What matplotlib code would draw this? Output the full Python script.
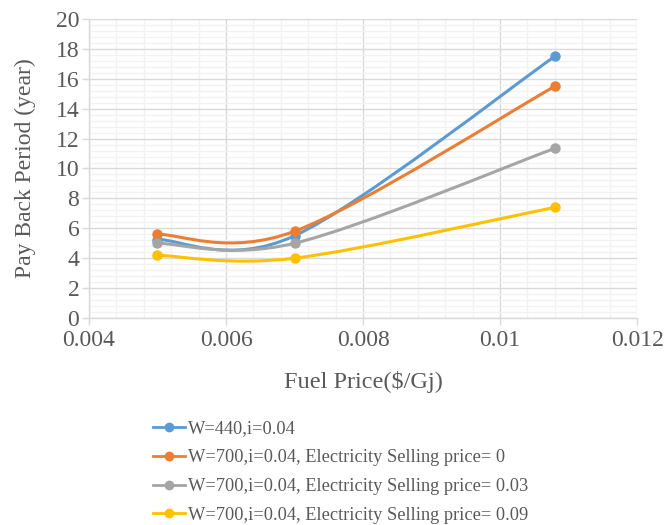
import numpy as np
import matplotlib
matplotlib.use("Agg")
import matplotlib.pyplot as plt
from matplotlib.path import Path
from matplotlib.patches import PathPatch
from matplotlib.lines import Line2D
from matplotlib.ticker import MultipleLocator


# -----------------------------
# Data
# -----------------------------

fuel_price = [0.005, 0.007, 0.0108]

payback_w440 = [5.25, 5.5, 17.5]
payback_w700_sell0 = [5.6, 5.8, 15.5]
payback_w700_sell003 = [5.0, 5.0, 11.35]
payback_w700_sell009 = [4.2, 4.0, 7.4]

series_labels = [
    "W=440,i=0.04",
    "W=700,i=0.04, Electricity Selling price= 0",
    "W=700,i=0.04, Electricity Selling price= 0.03",
    "W=700,i=0.04, Electricity Selling price= 0.09",
]

series_colors = ["#5B9BD5", "#ED7D31", "#A5A5A5", "#FFC000"]

text_color = "#595959"


# -----------------------------
# Smoothed line as cubic Bezier segments (Catmull-Rom style control points)
# -----------------------------

def smooth_path(xs, ys):
    pts = np.column_stack([xs, ys]).astype(float)
    n = len(pts)
    verts = [pts[0]]
    codes = [Path.MOVETO]
    for k in range(n - 1):
        p0 = pts[k - 1] if k > 0 else pts[k]
        p1 = pts[k]
        p2 = pts[k + 1]
        p3 = pts[k + 2] if k + 2 < n else pts[k + 1]
        c1 = p1 + (p2 - p0) / 6.0
        c2 = p2 - (p3 - p1) / 6.0
        verts += [c1, c2, p2]
        codes += [Path.CURVE4] * 3
    return Path(verts, codes)


plt.rcParams["font.family"] = ["Liberation Serif", "DejaVu Serif"]

fig = plt.figure(figsize=(6.65, 5.25), dpi=100)
ax = fig.add_axes([0.1338, 0.3943, 0.8242, 0.5695])

all_series = [payback_w440, payback_w700_sell0, payback_w700_sell003, payback_w700_sell009]

for values, color in zip(all_series, series_colors):
    patch = PathPatch(
        smooth_path(fuel_price, values),
        facecolor="none",
        edgecolor=color,
        linewidth=2.2,
        capstyle="round",
        zorder=3,
    )
    ax.add_patch(patch)
    ax.plot(
        fuel_price,
        values,
        linestyle="none",
        marker="o",
        markersize=6.5,
        color=color,
        zorder=4,
    )

ax.set_xlim(0.004, 0.012)
ax.set_ylim(0, 20)

ax.xaxis.set_minor_locator(MultipleLocator(0.0004))
ax.yaxis.set_major_locator(MultipleLocator(2))
ax.yaxis.set_minor_locator(MultipleLocator(0.4))

ax.set_xticks([0.004, 0.006, 0.008, 0.01, 0.012])
ax.set_xticklabels(["0.004", "0.006", "0.008", "0.01", "0.012"])

ax.grid(which="major", color="#D9D9D9", linewidth=1.0, zorder=1)
ax.grid(which="minor", color="#F2F2F2", linewidth=1.0, zorder=0)
ax.set_axisbelow(True)

for side in ["top", "right"]:
    ax.spines[side].set_visible(False)
for side in ["left", "bottom"]:
    ax.spines[side].set_color("#D9D9D9")
    ax.spines[side].set_linewidth(1.0)

ax.tick_params(which="major", length=5, width=1.0, color="#D9D9D9",
               labelsize=17, labelcolor=text_color)
ax.tick_params(which="minor", length=0)
ax.tick_params(axis="x", pad=4)
ax.tick_params(axis="y", pad=2)

ax.set_xlabel("Fuel Price($/Gj)", fontsize=17.5, color=text_color, labelpad=14)
ax.set_ylabel("Pay Back Period (year)", fontsize=17, color=text_color, labelpad=14)

# Legend below the chart
handles = [
    Line2D([], [], color=c, linewidth=2.0, marker="o", markersize=6)
    for c in series_colors
]
fig.legend(
    handles,
    series_labels,
    loc="upper left",
    bbox_to_anchor=(0.2195, 0.213),
    frameon=False,
    fontsize=13.2,
    labelcolor=text_color,
    handlelength=1.75,
    handletextpad=0.15,
    labelspacing=0.64,
    borderaxespad=0,
)

fig.savefig("out.png", dpi=100)
